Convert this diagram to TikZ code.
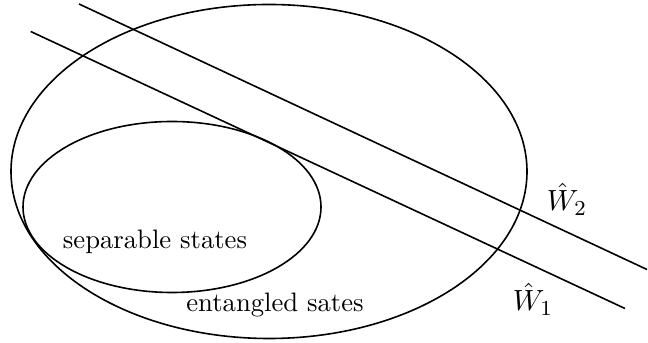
\documentclass[tikz,border=0pt]{standalone}
\usepackage{amsmath,amssymb}
\usepackage{tikz}
\usetikzlibrary{calc}

\begin{document}
\begin{tikzpicture}[x=3.75pt, y=-3.75pt, line width=0.6pt]
  \tikzstyle{region} = [draw=black]
  \tikzstyle{witness} = [draw=black]
  \tikzstyle{setname} = [font=\fontsize{10}{12}\selectfont]
  \tikzstyle{wname} = [font=\fontsize{11}{13}\selectfont]

  \useasboundingbox (0,0) rectangle (64.8,34.3);

  \draw [region] (26.9,17.15) ellipse [x radius=25.8, y radius=16.7];
  \draw [region] (17.2,20.7) ellipse [x radius=14.9, y radius=8.55];

  \coordinate (w1a) at (3.07,3.15);
  \coordinate (w1b) at (62.5,30.85);
  \coordinate (w2a) at (7.9,0.4);
  \coordinate (w2b) at (64.7,26.95);
  \draw [witness] (w1a) -- (w1b);
  \draw [witness] (w2a) -- (w2b);

  \node [setname] (sep) at (15.5,24.2) {separable states};
  \node [setname] (ent) at (27.5,30.5) {entangled sates};
  \node [wname] (W2) at (56.7,19.9) {$\hat{W}_2$};
  \node [wname] (W1) at (53.3,29.9) {$\hat{W}_1$};
\end{tikzpicture}
\end{document}
